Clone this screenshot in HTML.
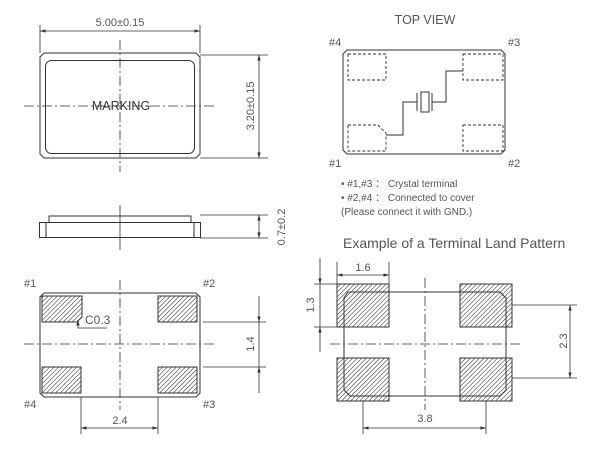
<!DOCTYPE html>
<html><head><meta charset="utf-8"><style>
html,body{margin:0;padding:0;background:#fff;}
svg{display:block;}
text{font-family:"Liberation Sans",sans-serif;fill:#555;}
</style></head><body>
<svg width="600" height="451" viewBox="0 0 600 451" xmlns="http://www.w3.org/2000/svg">
<defs>
<pattern id="h" width="3.2" height="3.2" patternUnits="userSpaceOnUse" patternTransform="rotate(45)">
<rect width="3.2" height="3.2" fill="#fff"/><line x1="0" y1="0" x2="0" y2="3.2" stroke="#333" stroke-width="1.1"/>
</pattern>
<marker id="a" viewBox="0 0 10 10" refX="10" refY="5" markerWidth="7" markerHeight="7" orient="auto-start-reverse"><path d="M0,2 L10,5 L0,8z" fill="#333"/></marker>
</defs>
<g stroke="#333" fill="none" stroke-width="1">
<!-- Top-left view -->
<path d="M44,53 H196 L200,57 V154 L196,158 H44 L40,154 V57 Z"/>
<rect x="45.5" y="60.5" width="149" height="93" rx="6"/>
<line x1="40" y1="25" x2="40" y2="53" stroke-width="0.8"/>
<line x1="200" y1="25" x2="200" y2="53" stroke-width="0.8"/>
<line x1="40" y1="31" x2="200" y2="31" marker-start="url(#a)" marker-end="url(#a)" stroke-width="0.8"/>
<line x1="200" y1="55" x2="268" y2="55" stroke-width="0.8"/>
<line x1="200" y1="158" x2="268" y2="158" stroke-width="0.8"/>
<line x1="259" y1="55" x2="259" y2="158" marker-start="url(#a)" marker-end="url(#a)" stroke-width="0.8"/>
<line x1="120" y1="40" x2="120" y2="172" stroke-dasharray="10,3,2,3" stroke-width="0.8"/>
<line x1="24" y1="106" x2="215" y2="106" stroke-dasharray="10,3,2,3" stroke-width="0.8"/>
<!-- side view -->
<path d="M49,222 V216 H191 V222"/>
<rect x="39.5" y="222.5" width="161" height="15"/>
<line x1="46" y1="223" x2="46" y2="237"/><line x1="194" y1="223" x2="194" y2="237"/>
<line x1="120" y1="205" x2="120" y2="250" stroke-width="0.8"/>
<line x1="200" y1="215" x2="268" y2="215" stroke-width="0.8"/>
<line x1="200" y1="238" x2="268" y2="238" stroke-width="0.8"/>
<line x1="259" y1="215" x2="259" y2="238" marker-start="url(#a)" marker-end="url(#a)" stroke-width="0.8"/>
<!-- bottom-left view -->
<path d="M44,293 H196 L200,297 V393 L196,397 H44 L40,393 V297 Z"/>
<path d="M42,296 H82 V317 L77,322 H42 Z" fill="url(#h)"/>
<rect x="158" y="296" width="39" height="26" fill="url(#h)"/>
<rect x="42" y="367" width="39" height="26" fill="url(#h)"/>
<rect x="158" y="367" width="39" height="26" fill="url(#h)"/>
<path d="M107,328 H78 V320" stroke-width="0.8" marker-end="url(#a)"/>
<line x1="120" y1="280" x2="120" y2="410" stroke-dasharray="10,3,2,3" stroke-width="0.8"/>
<line x1="24" y1="344" x2="215" y2="344" stroke-dasharray="10,3,2,3" stroke-width="0.8"/>
<line x1="203" y1="322" x2="266" y2="322" stroke-width="0.8"/>
<line x1="203" y1="367" x2="266" y2="367" stroke-width="0.8"/>
<line x1="259" y1="296" x2="259" y2="322" marker-end="url(#a)" stroke-width="0.8"/>
<line x1="259" y1="393" x2="259" y2="367" marker-end="url(#a)" stroke-width="0.8"/>
<line x1="259" y1="322" x2="259" y2="367" stroke-width="0.8"/>
<line x1="81" y1="397" x2="81" y2="434" stroke-width="0.8"/>
<line x1="158" y1="397" x2="158" y2="434" stroke-width="0.8"/>
<line x1="81" y1="428" x2="158" y2="428" marker-start="url(#a)" marker-end="url(#a)" stroke-width="0.8"/>
<!-- top view right -->
<path d="M347,50 H501 L505,54 V150 L501,154 H347 L343,150 V54 Z"/>
<g stroke-dasharray="3,2" stroke-width="0.9">
<rect x="348" y="54" width="38" height="26"/>
<rect x="463" y="54" width="40" height="26"/>
<path d="M348,125 H378 L386,133 V151 H348 Z"/>
<rect x="463" y="125" width="40" height="26"/>
</g>
<path d="M386,135 H403 V102 H417"/>
<line x1="417" y1="93" x2="417" y2="111"/>
<rect x="421" y="92" width="8" height="20"/>
<line x1="432" y1="93" x2="432" y2="111"/>
<path d="M432,102 H446 V71 H463"/>
<!-- land pattern -->
<rect x="337" y="284" width="52" height="43" fill="url(#h)"/>
<rect x="460" y="284" width="52" height="43" fill="url(#h)"/>
<rect x="337" y="358" width="52" height="43" fill="url(#h)"/>
<rect x="460" y="358" width="52" height="43" fill="url(#h)"/>
<path d="M348,292 H500 L506,298 V390 L500,396 H350 L344,390 V298 Z"/>
<line x1="425" y1="278" x2="425" y2="410" stroke-dasharray="10,3,2,3" stroke-width="0.8"/>
<line x1="330" y1="344" x2="520" y2="344" stroke-dasharray="10,3,2,3" stroke-width="0.8"/>
<line x1="337" y1="262" x2="337" y2="284" stroke-width="0.8"/>
<line x1="389" y1="262" x2="389" y2="284" stroke-width="0.8"/>
<line x1="337" y1="275" x2="389" y2="275" marker-start="url(#a)" marker-end="url(#a)" stroke-width="0.8"/>
<line x1="314" y1="284" x2="337" y2="284" stroke-width="0.8"/>
<line x1="314" y1="327" x2="337" y2="327" stroke-width="0.8"/>
<line x1="320" y1="258" x2="320" y2="284" marker-end="url(#a)" stroke-width="0.8"/>
<line x1="320" y1="352" x2="320" y2="327" marker-end="url(#a)" stroke-width="0.8"/>
<line x1="320" y1="284" x2="320" y2="327" stroke-width="0.8"/>
<line x1="512" y1="305" x2="577" y2="305" stroke-width="0.8"/>
<line x1="512" y1="378" x2="577" y2="378" stroke-width="0.8"/>
<line x1="570" y1="305" x2="570" y2="378" marker-start="url(#a)" marker-end="url(#a)" stroke-width="0.8"/>
<line x1="363" y1="401" x2="363" y2="434" stroke-width="0.8"/>
<line x1="486" y1="401" x2="486" y2="434" stroke-width="0.8"/>
<line x1="363" y1="428" x2="486" y2="428" marker-start="url(#a)" marker-end="url(#a)" stroke-width="0.8"/>
</g>
<g font-size="11">
<text x="120" y="26" text-anchor="middle">5.00±0.15</text>
<text x="121" y="110" text-anchor="middle" font-size="12.5" style="fill:#333">MARKING</text>
<text transform="translate(254,106) rotate(-90)" text-anchor="middle">3.20±0.15</text>
<text transform="translate(285,227) rotate(-90)" text-anchor="middle">0.7±0.2</text>
<text x="24" y="287">#1</text><text x="203" y="287">#2</text>
<text x="24" y="408">#4</text><text x="203" y="408">#3</text>
<text x="85" y="324" font-size="12">C0.3</text>
<text transform="translate(254,344) rotate(-90)" text-anchor="middle">1.4</text>
<text x="120" y="424" text-anchor="middle">2.4</text>
<text x="425" y="24" text-anchor="middle" font-size="12.5">TOP VIEW</text>
<text x="329" y="46">#4</text><text x="508" y="46">#3</text>
<text x="329" y="167">#1</text><text x="508" y="167">#2</text>
<text x="341" y="187" font-size="10">• #1,#3 ： Crystal terminal</text>
<text x="341" y="201" font-size="10">• #2,#4 ： Connected to cover</text>
<text x="341" y="215" font-size="10">(Please connect it with GND.)</text>
<text x="343" y="248" font-size="14">Example of a Terminal Land Pattern</text>
<text x="363" y="271" text-anchor="middle">1.6</text>
<text transform="translate(314,305) rotate(-90)" text-anchor="middle">1.3</text>
<text transform="translate(567,341) rotate(-90)" text-anchor="middle">2.3</text>
<text x="425" y="422" text-anchor="middle">3.8</text>
</g>
</svg>
</body></html>
